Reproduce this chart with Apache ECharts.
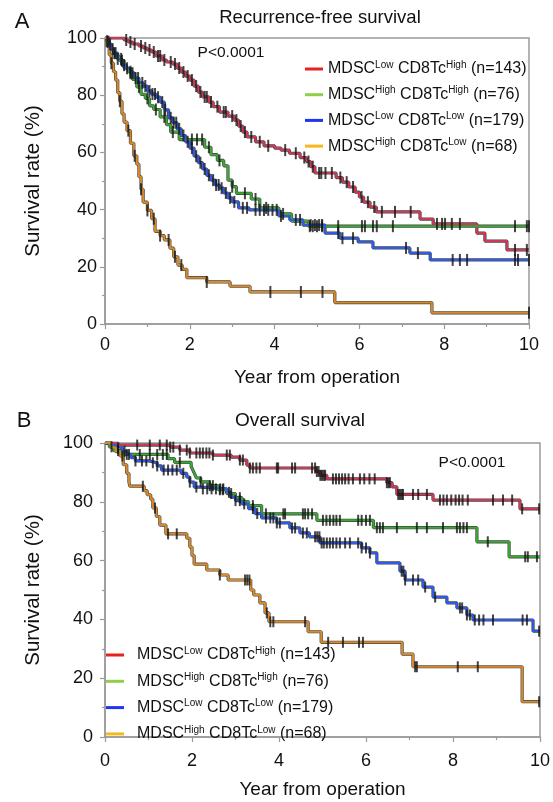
<!DOCTYPE html>
<html><head><meta charset="utf-8">
<script src="https://cdn.jsdelivr.net/npm/echarts@6/dist/echarts.min.js"></script>
<style>html,body{margin:0;padding:0;background:#fff}#c{width:553px;height:802px}</style>
</head><body><div id="c"></div>
<script>
// ---------- categories / labels ----------
const groupNames = ['MDSC Low CD8Tc High (n=143)','MDSC High CD8Tc High (n=76)','MDSC Low CD8Tc Low (n=179)','MDSC High CD8Tc Low (n=68)'];
const groupRich = [
  '{m|MDSC}{s|Low}{m| CD8Tc}{s|High}{m| (n=143)}',
  '{m|MDSC}{s|High}{m| CD8Tc}{s|High}{m| (n=76)}',
  '{m|MDSC}{s|Low}{m| CD8Tc}{s|Low}{m| (n=179)}',
  '{m|MDSC}{s|High}{m| CD8Tc}{s|Low}{m| (n=68)}'
];
const curveColors = ['#cc3a57','#3aa834','#2e5be8','#d8892b'];
const legendColors = ['#e52421','#8fcf4a','#1f35f2','#f6b81d'];
const xTickLabels = [0,2,4,6,8,10];
const yTickLabels = [0,20,40,60,80,100];
const followUp = 10;

// ---------- A: Recurrence-free survival (step points [year, %]) ----------
const rfsRed = [[0,100],[0.45,99.3],[0.55,98.6],[0.65,97.9],[0.8,97.2],[0.9,96.5],[1.0,95.8],[1.1,95.1],[1.2,93.7],[1.35,92.3],[1.45,91.6],[1.6,90.9],[1.7,89.5],[1.8,88.1],[1.9,86.7],[2.0,85.3],[2.1,83.2],[2.2,81.1],[2.3,79.4],[2.45,77.6],[2.55,76.0],[2.7,74.1],[2.9,72.7],[3.05,71.3],[3.15,69.2],[3.25,67.1],[3.35,65.4],[3.55,63.7],[3.75,62.3],[4.0,61.5],[4.15,60.8],[4.35,59.7],[4.6,58.2],[4.75,56.8],[4.85,55.0],[4.95,52.8],[5.45,51.2],[5.6,49.6],[5.75,47.9],[5.9,46.1],[6.0,44.4],[6.1,42.6],[6.25,40.9],[6.4,39.2],[7.43,36.7],[7.74,35.0],[8.77,31.8],[8.96,29.0],[9.48,25.9]];
const rfsGreen = [[0,100],[0.05,98.7],[0.1,97.4],[0.15,96.1],[0.2,94.7],[0.25,93.4],[0.35,92.1],[0.45,89.5],[0.55,88.2],[0.65,85.5],[0.75,82.9],[0.85,80.3],[0.95,78.9],[1.05,76.3],[1.15,75.0],[1.3,72.4],[1.45,69.7],[1.55,67.1],[1.75,64.5],[2.35,61.8],[2.5,59.2],[2.65,57.2],[2.8,55.3],[2.9,50.3],[3.0,48.0],[3.1,45.7],[3.45,43.7],[3.65,40.6],[4.1,38.5],[4.4,36.0],[4.8,34.2]];
const rfsBlue = [[0,100],[0.05,98.9],[0.1,97.8],[0.15,96.1],[0.2,94.7],[0.3,92.7],[0.4,90.5],[0.5,89.4],[0.6,87.7],[0.7,86.0],[0.8,84.3],[0.9,83.2],[1.0,81.5],[1.1,80.4],[1.2,79.3],[1.3,77.6],[1.4,74.9],[1.5,72.1],[1.6,70.4],[1.7,68.2],[1.8,65.9],[1.9,63.7],[2.0,61.5],[2.1,58.7],[2.2,56.4],[2.3,54.2],[2.4,52.0],[2.5,50.3],[2.6,48.6],[2.7,47.5],[2.8,45.8],[2.9,44.1],[3.0,42.7],[3.15,40.6],[3.4,39.9],[4.1,37.8],[4.36,36.4],[4.67,34.6],[5.19,31.8],[5.54,30.0],[5.97,28.7],[6.32,26.6],[7.19,24.8],[7.67,22.4]];
const rfsOrange = [[0,100],[0.05,97.1],[0.1,94.1],[0.15,91.2],[0.2,88.2],[0.25,85.3],[0.3,80.9],[0.35,77.9],[0.4,73.5],[0.45,70.6],[0.52,67.6],[0.6,63.2],[0.68,58.8],[0.75,55.9],[0.8,51.5],[0.85,47.1],[0.9,42.6],[1.0,39.7],[1.1,36.8],[1.18,32.4],[1.3,30.9],[1.4,29.4],[1.53,26.5],[1.62,23.5],[1.72,20.6],[1.82,19.1],[1.93,16.2],[2.4,14.7],[2.95,13.2],[3.42,11.2],[5.42,7.5],[7.71,3.9]];
// censor times
const rfsRedCens = [0.5,0.6,0.7,0.85,0.95,1.05,1.15,1.25,1.3,1.4,1.55,1.65,1.75,1.85,1.95,2.05,2.15,2.25,2.35,2.4,2.5,2.65,2.8,2.85,3.0,3.1,3.2,3.3,3.45,3.65,3.85,4.25,4.5,4.7,4.8,4.9,5.05,5.1,5.2,5.35,5.55,5.7,5.85,6.05,6.2,6.35,6.53,6.84,7.21,7.83,7.95,8.02,8.18,8.37,9.67,9.95];
const rfsGreenCens = [0.08,0.22,0.4,0.6,0.8,1.0,1.2,1.4,1.6,2.05,2.17,2.29,2.45,2.7,3.0,3.3,3.55,3.8,4.2,4.83,4.9,5.0,5.12,5.5,6.06,6.13,6.32,6.41,6.79,9.67,9.95,10];
const rfsBlueCens = [0.05,0.12,0.18,0.25,0.3,0.38,0.45,0.52,0.6,0.65,0.72,0.78,0.88,0.95,1.05,1.12,1.18,1.25,1.35,1.42,1.55,1.62,1.68,1.75,1.85,1.95,2.05,2.15,2.25,2.35,2.45,2.55,2.62,2.68,2.75,2.85,2.95,3.05,3.25,3.35,3.55,3.65,3.75,3.85,3.95,4.05,4.15,4.5,4.6,4.85,4.95,5.05,5.12,5.5,5.6,5.85,7.1,7.38,8.2,8.37,8.54,9.67,9.74,10];
const rfsOrangeCens = [0.15,0.35,0.55,0.7,0.85,1.0,1.15,1.3,1.5,1.65,1.8,2.4,3.9,4.62,5.13,10];

// ---------- B: Overall survival ----------
const osRed = [[0,100],[0.3,99.3],[1.5,98.6],[1.72,97.6],[1.95,96.6],[2.48,95.9],[2.9,95.2],[3.1,94.2],[3.26,92.5],[3.33,91.5],[4.85,90.3],[4.95,89.0],[5.1,87.8],[6.48,86.5],[6.6,85.1],[6.71,82.5],[7.54,80.6],[9.54,77.6]];
const osGreen = [[0,100],[0.1,98.7],[0.2,97.4],[0.4,96.1],[1.45,94.7],[1.6,93.4],[1.98,92.1],[2.02,90.8],[2.06,89.5],[2.1,88.1],[2.2,86.8],[2.4,85.5],[2.6,84.1],[2.8,82.8],[3.0,81.4],[3.15,80.1],[3.3,78.7],[3.6,75.9],[4.87,73.7],[6.17,71.2],[8.55,66.4],[9.29,61.3]];
const osBlue = [[0,100],[0.1,99.4],[0.2,98.9],[0.3,98.3],[0.4,97.2],[0.5,96.1],[0.6,95.0],[0.7,93.9],[1.0,93.3],[1.2,92.2],[1.3,90.8],[1.75,89.7],[1.88,88.4],[1.95,86.7],[2.05,85.0],[2.2,84.4],[2.8,83.2],[2.9,81.6],[3.0,80.4],[3.15,79.3],[3.3,77.7],[3.45,76.0],[3.6,74.5],[3.95,72.8],[4.25,71.1],[4.48,69.4],[4.7,68.1],[4.94,66.0],[5.9,64.3],[6.09,62.6],[6.25,59.2],[6.78,56.4],[6.9,53.4],[7.31,51.0],[7.54,47.6],[7.86,45.6],[8.09,43.9],[8.32,41.5],[8.46,39.8],[9.84,36.0]];
const osOrange = [[0,100],[0.15,98.5],[0.25,97.1],[0.35,95.6],[0.42,92.6],[0.5,89.7],[0.55,86.8],[0.57,85.3],[0.9,83.8],[0.97,82.4],[1.05,80.9],[1.1,77.9],[1.18,75.0],[1.26,72.1],[1.4,69.1],[1.88,67.6],[1.95,64.6],[2.0,61.7],[2.05,58.8],[2.34,56.8],[2.64,55.1],[2.83,53.4],[3.35,50.0],[3.42,48.3],[3.56,45.6],[3.68,42.2],[3.77,39.2],[4.67,35.8],[4.97,32.2],[6.83,28.2],[7.08,23.9],[9.59,12.0]];
const osRedCens = [0.74,1.03,1.26,1.42,1.5,1.57,1.72,1.88,1.95,2.1,2.18,2.25,2.33,2.4,2.48,2.8,2.87,3.1,3.17,3.33,3.4,3.48,3.56,3.95,3.98,4.3,4.37,4.76,4.83,4.87,4.91,4.95,4.99,5.03,5.06,5.24,5.31,5.38,5.45,5.52,5.6,5.7,5.86,5.96,6.08,6.2,6.48,6.52,6.55,6.74,6.78,6.82,6.85,7.08,7.2,7.4,7.7,7.78,7.86,7.96,8.06,8.14,8.22,8.34,8.92,9.15,9.36,9.59,9.98];
const osGreenCens = [0.15,0.3,0.5,0.8,1.03,1.2,1.33,1.42,1.72,2.2,2.41,2.48,2.64,2.71,2.9,3.1,3.4,3.7,4.1,4.14,4.55,4.6,4.67,4.76,5.01,5.09,5.17,5.25,5.32,5.4,5.82,5.9,6.0,6.09,6.25,6.32,6.39,6.71,7.17,7.4,7.77,8.09,8.16,8.24,8.32,8.8,9.66,9.72,9.93];
const osBlueCens = [0.3,0.45,0.55,0.7,0.85,0.95,1.1,1.2,1.35,1.45,1.55,1.65,1.8,1.95,2.1,2.25,2.35,2.45,2.55,2.65,2.72,2.85,3.0,3.1,3.2,3.4,3.5,3.7,3.8,3.87,3.95,4.02,4.3,4.37,4.55,4.64,4.83,4.88,4.93,4.98,5.03,5.1,5.17,5.24,5.32,5.4,5.52,5.63,5.82,5.9,6.0,6.09,6.82,6.86,6.9,7.08,7.2,7.36,7.59,8.16,8.21,8.32,8.39,8.5,8.6,8.7,8.92,9.6,9.7,9.98];
const osOrangeCens = [0.4,0.87,1.15,1.45,1.65,2.64,3.22,3.27,3.32,3.72,3.8,3.87,4.6,5.13,5.47,5.84,5.93,7.13,7.17,8.11,8.57,9.98];

// ---------- build ----------
function withEnd(steps){ return steps.concat([[followUp, steps[steps.length-1][1]]]); }
function survAt(steps, t){ let s = steps[0][1]; for (const p of steps){ if (p[0] <= t) s = p[1]; else break; } return s; }

const panels = [
  {curves:[rfsRed,rfsGreen,rfsBlue,rfsOrange], cens:[rfsRedCens,rfsGreenCens,rfsBlueCens,rfsOrangeCens], tick:12},
  {curves:[osRed,osGreen,osBlue,osOrange], cens:[osRedCens,osGreenCens,osBlueCens,osOrangeCens], tick:11}
];

const series = [];
panels.forEach((p, gi) => {
  p.curves.forEach((c, i) => {
    series.push({type:'line', name:'outline'+gi+i, xAxisIndex:gi, yAxisIndex:gi, step:'end', showSymbol:false, symbol:'none',
      data: withEnd(c), lineStyle:{color:'#454545', width:3.2}, z:2, silent:true});
  });
  p.curves.forEach((c, i) => {
    series.push({type:'line', name:groupNames[i], xAxisIndex:gi, yAxisIndex:gi, step:'end', showSymbol:false, symbol:'none',
      data: withEnd(c), lineStyle:{color:curveColors[i], width:2}, itemStyle:{color:legendColors[i]}, z:3, silent:true});
  });
  p.cens.forEach((ct, i) => {
    series.push({type:'scatter', name:'cens'+gi+i, xAxisIndex:gi, yAxisIndex:gi, symbol:'rect', symbolSize:[2, p.tick],
      data: ct.map(t => [t, survAt(p.curves[i], t)]), itemStyle:{color:'#151515'}, z:4, silent:true});
  });
});

const font = 'Liberation Sans, Arial, Helvetica, sans-serif';
function xAx(gi, margin, gap){ return {gridIndex:gi, type:'value', min:0, max:10, interval:2,
  axisLine:{lineStyle:{color:'#9a9a9a', width:1.5}}, axisTick:{length:5, lineStyle:{color:'#9a9a9a', width:1.2}},
  minorTick:{show:true, splitNumber:2, length:3, lineStyle:{color:'#9a9a9a', width:1.2}}, splitLine:{show:false},
  axisLabel:{fontSize:18, color:'#111', margin:margin, fontFamily:font, formatter: v => xTickLabels.includes(v) ? String(v) : ''},
  name:'Year from operation', nameLocation:'middle', nameGap:gap, nameTextStyle:{fontSize:19, color:'#111', fontFamily:font}}; }
function yAx(gi, margin, gap){ return {gridIndex:gi, type:'value', min:0, max:100, interval:20,
  axisLine:{show:true, lineStyle:{color:'#9a9a9a', width:1.5}}, axisTick:{show:true, length:5, lineStyle:{color:'#9a9a9a', width:1.2}},
  minorTick:{show:true, splitNumber:2, length:3, lineStyle:{color:'#9a9a9a', width:1.2}}, splitLine:{show:false},
  axisLabel:{fontSize:18, color:'#111', margin:margin, fontFamily:font, formatter: v => yTickLabels.includes(v) ? String(v) : ''},
  name:'Survival rate (%)', nameLocation:'middle', nameGap:gap, nameRotate:90, nameTextStyle:{fontSize:20.5, color:'#111', fontFamily:font}}; }

const legendRich = {m:{fontSize:16, lineHeight:18, color:'#111', fontFamily:font}, s:{fontSize:10, lineHeight:11, verticalAlign:'top', color:'#111', fontFamily:font}, g:{width:8}};
function legend(left, top, gap, lead){ return {orient:'vertical', left:left, top:top, padding:0, itemGap:gap, itemWidth:18, itemHeight:3, icon:'rect', selectedMode:false,
  data: groupNames.map((n,i)=>({name:n, icon:'rect', itemStyle:{color:legendColors[i]}})),
  formatter: n => (lead ? '{g|}' : '') + groupRich[groupNames.indexOf(n)], textStyle:{rich:legendRich, fontSize:16, fontFamily:font}}; }

const option = {
  animation:false,
  grid:[{left:105, top:38, width:424, height:286, show:true, borderColor:'#9a9a9a', borderWidth:1.5},
        {left:105, top:443, width:435, height:294, show:true, borderColor:'#9a9a9a', borderWidth:1.5}],
  xAxis:[xAx(0, 12, 44), xAx(1, 15, 43)],
  yAxis:[yAx(0, 8, 61), yAx(1, 12, 61)],
  legend:[legend(305, 60, 8.7, false), legend(106, 646, 9.3, true)],
  graphic:[
    {type:'text', x:22, y:22, style:{text:'A', fill:'#111', font:'22px '+font, textAlign:'center', textVerticalAlign:'middle'}},
    {type:'text', x:24, y:421, style:{text:'B', fill:'#111', font:'22px '+font, textAlign:'center', textVerticalAlign:'middle'}},
    {type:'text', x:320, y:18, style:{text:'Recurrence-free survival', font:'18.5px '+font, fill:'#111', textAlign:'center', textVerticalAlign:'middle'}},
    {type:'text', x:300, y:421, style:{text:'Overall survival', font:'19px '+font, fill:'#111', textAlign:'center', textVerticalAlign:'middle'}},
    {type:'text', x:231, y:53, style:{text:'P<0.0001', font:'15.5px '+font, fill:'#111', textAlign:'center', textVerticalAlign:'middle'}},
    {type:'text', x:472, y:463, style:{text:'P<0.0001', font:'15.5px '+font, fill:'#111', textAlign:'center', textVerticalAlign:'middle'}}
  ],
  series: series
};
const chart = echarts.init(document.getElementById('c'), null, {renderer:'canvas'});
chart.setOption(option);
</script></body></html>
